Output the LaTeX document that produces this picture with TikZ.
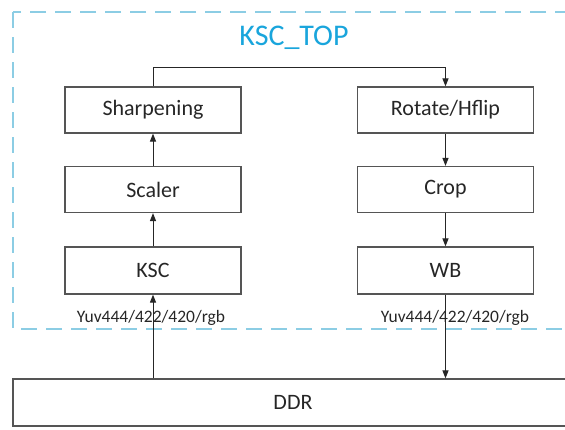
\documentclass[tikz,border=0pt]{standalone}
\usepackage{fontspec}
\setmainfont{Carlito}
\usetikzlibrary{arrows.meta}
\definecolor{ksccyan}{RGB}{25,165,220}
\definecolor{kscdash}{RGB}{140,205,228}
\definecolor{boxgray}{RGB}{85,85,85}
\begin{document}
\begin{tikzpicture}[x=1pt,y=-1pt,
    block/.style={draw=boxgray,line width=1.2pt,minimum width=176pt,minimum height=46pt,inner sep=0pt,text=black!85,font=\fontsize{22}{25}\selectfont},
    flow/.style={line width=1pt,black!85,-{Triangle[length=8pt,width=6pt]}},
    fmt/.style={text=black!85,font=\fontsize{17.5}{20}\selectfont}]
        \useasboundingbox (0,0) rectangle (565,429);
        \clip (0,0) rectangle (565,429);
        %% KSC_TOP boundary
        \draw[kscdash,line width=1.5pt,dash pattern=on 16pt off 9pt] (13,12) rectangle (600,329);
        \node[text=ksccyan,font=\fontsize{30}{34}\selectfont] (title) at (294,38) {KSC\_TOP};
        %% left chain
        \node[block] (sharp) at (153,110) {Sharpening};
        \node[block] (scaler) at (153,189.5) {Scaler};
        \node[block,minimum height=47pt] (ksc) at (153,270.5) {KSC};
        %% right chain
        \node[block] (rot) at (445.5,110) {Rotate/Hflip};
        \node[block] (crop) at (445.5,189.5) {Crop};
        \node[block,minimum height=47pt] (wb) at (445.5,270.5) {WB};
        %% memory
        \node[block,minimum width=560pt,minimum height=47pt] (ddr) at (293,402.5) {DDR};
        %% formats
        \node[fmt] (fmtin) at (151,318) {Yuv444/422/420/rgb};
        \node[fmt] (fmtout) at (455,318) {Yuv444/422/420/rgb};
        %% data flow
        \draw[flow] (ksc |- ddr.north) -- (ksc.south);
        \draw[flow] (ksc) -- (scaler);
        \draw[flow] (scaler) -- (sharp);
        \draw[flow] (sharp.north) -- ++(0,-19) -| (rot.north);
        \draw[flow] (rot) -- (crop);
        \draw[flow] (crop) -- (wb);
        \draw[flow] (wb.south) -- (wb |- ddr.north);
\end{tikzpicture}
\end{document}
